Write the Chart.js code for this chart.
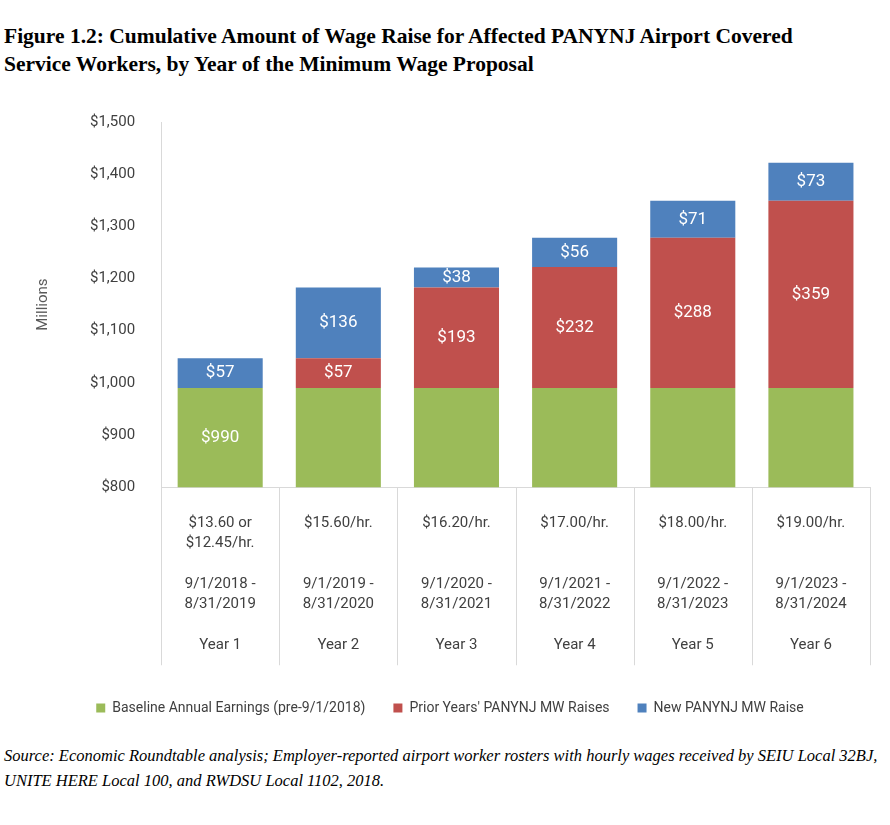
<!DOCTYPE html>
<html><head><meta charset="utf-8">
<script src="https://cdn.jsdelivr.net/npm/chart.js@4"></script>
<style>
body{margin:0;background:#fff;width:890px;height:825px;position:relative;overflow:hidden}
#t{position:absolute;left:4px;top:22px;font:bold 21.5px 'Liberation Serif',serif;line-height:28px;color:#000;white-space:nowrap}
#c{position:absolute;left:30px;top:95px;width:850px;height:630px}
#s{position:absolute;left:4px;top:743px;width:885px;font:italic 16.5px 'Liberation Serif',serif;line-height:25px;color:#000}
</style></head><body>
<div id="t">Figure 1.2: Cumulative Amount of Wage Raise for Affected PANYNJ Airport Covered<br>Service Workers, by Year of the Minimum Wage Proposal</div>
<div id="c"><canvas id="myChart"></canvas></div>
<div id="s">Source: Economic Roundtable analysis; Employer-reported airport worker rosters with hourly wages received by SEIU Local 32BJ, UNITE HERE Local 100, and RWDSU Local 1102, 2018.</div>
<script>
const categories = [
  ['$13.60 or','$12.45/hr.','','9/1/2018 -','8/31/2019','','Year 1'],
  ['$15.60/hr.','','','9/1/2019 -','8/31/2020','','Year 2'],
  ['$16.20/hr.','','','9/1/2020 -','8/31/2021','','Year 3'],
  ['$17.00/hr.','','','9/1/2021 -','8/31/2022','','Year 4'],
  ['$18.00/hr.','','','9/1/2022 -','8/31/2023','','Year 5'],
  ['$19.00/hr.','','','9/1/2023 -','8/31/2024','','Year 6']
];
const baseline = [990, 990, 990, 990, 990, 990];
const priorRaises = [0, 57, 193, 232, 288, 359];
const newRaise = [57, 136, 38, 56, 71, 73];
const yTicks = [800, 900, 1000, 1100, 1200, 1300, 1400, 1500];

const font = "'Liberation Sans Narrow',Roboto,sans-serif";
Chart.defaults.font.family = font;
Chart.defaults.color = '#404040';

const labelPlugin = {
  id: 'labels',
  afterDatasetsDraw(chart){
    const ctx = chart.ctx;
    ctx.save();
    ctx.fillStyle = '#fff';
    ctx.font = '17px ' + font;
    ctx.textAlign = 'center';
    ctx.textBaseline = 'middle';
    chart.data.datasets.forEach((ds, di) => {
      chart.getDatasetMeta(di).data.forEach((bar, i) => {
        const v = ds.data[i];
        if (!v) return;
        if (di === 0 && i > 0) return;
        const mid = di === 0 ? (bar.y + chart.scales.y.getPixelForValue(800)) / 2 : (bar.y + bar.base) / 2;
        ctx.fillText('$' + v, bar.x, mid);
      });
    });
    // category separators through the label table
    const x = chart.scales.x, bottom = chart.chartArea.bottom;
    ctx.strokeStyle = '#D9D9D9';
    ctx.lineWidth = 1;
    for (let i = 0; i <= categories.length; i++) {
      const px = Math.round(x.left + (x.right - x.left) * i / categories.length) + 0.5;
      ctx.beginPath(); ctx.moveTo(px, bottom); ctx.lineTo(px, bottom + 178); ctx.stroke();
    }
    ctx.restore();
  }
};

new Chart(document.getElementById('myChart'), {
  type: 'bar',
  data: {
    labels: categories,
    datasets: [
      {label: 'Baseline Annual Earnings (pre-9/1/2018)', data: baseline, backgroundColor: '#9BBB59'},
      {label: "Prior Years' PANYNJ MW Raises", data: priorRaises, backgroundColor: '#C0504D'},
      {label: 'New PANYNJ MW Raise', data: newRaise, backgroundColor: '#4F81BD'}
    ]
  },
  options: {
    responsive: true, maintainAspectRatio: false, animation: false,
    layout: {padding: {right: 10, top: 8}},
    plugins: {
      tooltip: {enabled: false},
      legend: {position: 'bottom', labels: {boxWidth: 9, boxHeight: 9, padding: 28, color: '#404040', font: {size: 14}}}
    },
    scales: {
      x: {
        stacked: true,
        categoryPercentage: 0.55, barPercentage: 1,
        grid: {display: false},
        border: {color: '#D9D9D9'},
        ticks: {font: {size: 15, lineHeight: 1.35}, color: '#404040', padding: 18, maxRotation: 0}
      },
      y: {
        stacked: true, min: 800, max: 1500,
        afterBuildTicks: s => { s.ticks = yTicks.map(v => ({value: v})); },
        grid: {display: false},
        border: {color: '#D9D9D9'},
        title: {display: true, text: 'Millions', font: {size: 15}, color: '#595959', padding: {bottom: 20}},
        ticks: {font: {size: 15}, color: '#404040', padding: 18, callback: v => '$' + v.toLocaleString('en-US')}
      }
    }
  },
  plugins: [labelPlugin]
});
</script>
</body></html>
